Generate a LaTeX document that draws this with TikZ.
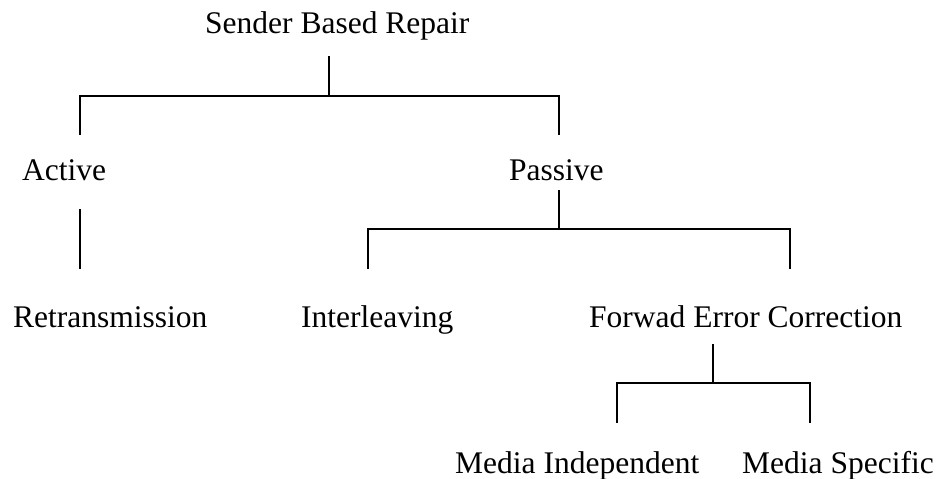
\documentclass[tikz,border=0pt]{standalone}
\usepackage{fontspec}
\setmainfont{Liberation Serif}
\begin{document}
\begin{tikzpicture}[x=1pt,y=-1pt,
  lbl/.style={anchor=base west,inner sep=0pt,font=\fontsize{31.5}{36}\selectfont},
  conn/.style={draw=black,line width=1.4pt,line cap=rect}]
\useasboundingbox[fill=white] (0,0) rectangle (940,479);
% labels
\node[lbl] (root) at (205,33) {Sender Based Repair};
\node[lbl] (act) at (22,180) {Active};
\node[lbl] (pas) at (509,180) {Passive};
\node[lbl] (ret) at (13,327) {Retransmission};
\node[lbl] (int) at (301,327) {Interleaving};
\node[lbl] (fec) at (589,327) {Forwad Error Correction};
\node[lbl] (mi) at (455,473) {Media Independent};
\node[lbl] (ms) at (742,473) {Media Specific};
% connector points
\coordinate (rootB) at (329,57);
\coordinate (rootJ) at (329,96);
\coordinate (actT) at (80,134);
\coordinate (pasT) at (559,134);
\coordinate (actB) at (80,210);
\coordinate (retT) at (80,268);
\coordinate (pasB) at (559,191);
\coordinate (pasJ) at (559,229);
\coordinate (intT) at (368,268);
\coordinate (fecT) at (790,268);
\coordinate (fecB) at (713,345);
\coordinate (fecJ) at (713,383);
\coordinate (miT) at (617,422);
\coordinate (msT) at (810,422);
% connectors
\draw[conn] (rootB) -- (rootJ);
\draw[conn] (actT) |- (rootJ) -| (pasT);
\draw[conn] (actB) -- (retT);
\draw[conn] (pasB) -- (pasJ);
\draw[conn] (intT) |- (pasJ) -| (fecT);
\draw[conn] (fecB) -- (fecJ);
\draw[conn] (miT) |- (fecJ) -| (msT);
\end{tikzpicture}
\end{document}
